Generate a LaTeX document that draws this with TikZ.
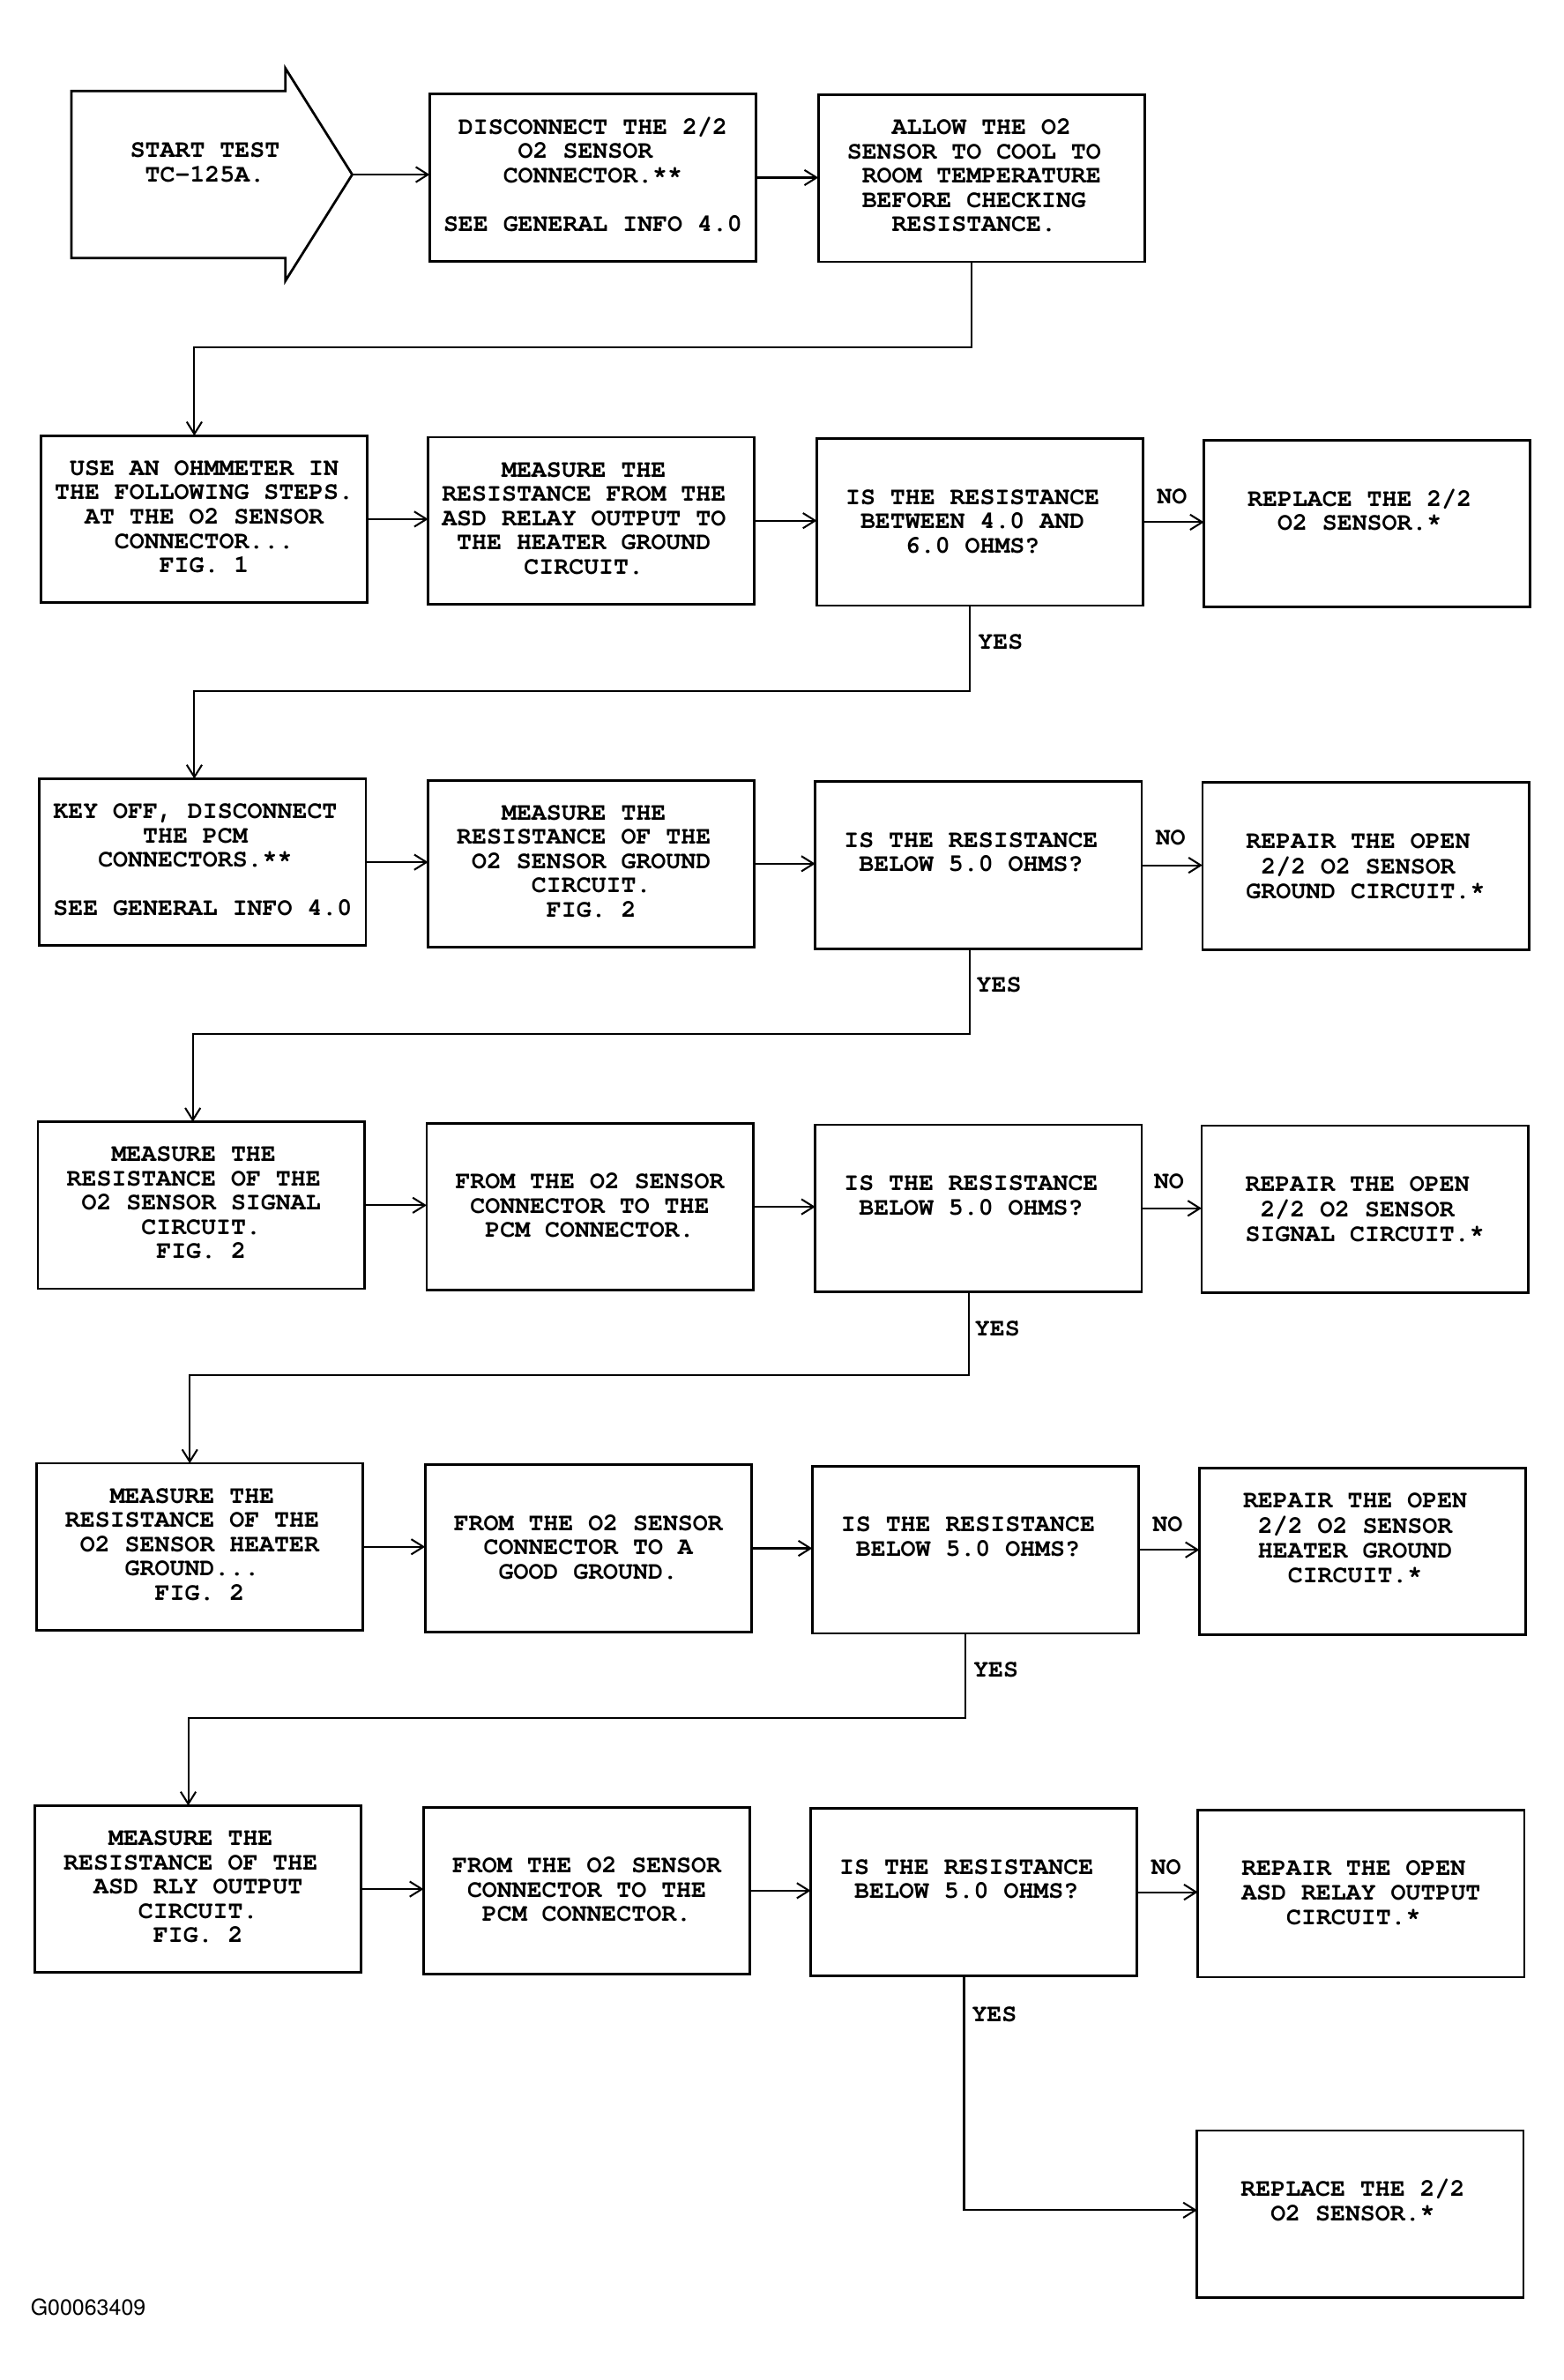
\documentclass[tikz,border=0pt]{standalone}
\usepackage{fontspec}
\setmainfont{TeX Gyre Cursor}
\newfontfamily\idsans{TeX Gyre Heros}
\usetikzlibrary{arrows.meta}
\newcommand{\bxt}[2]{\parbox[c][110pt][t]{215pt}{\centering\fontsize{16.4}{16}\selectfont\bfseries\vspace*{#1}\strut #2}}
\newcommand{\tsp}{\hphantom{0}}
\begin{document}
\begin{tikzpicture}[x=1pt,y=-1pt,
  box/.style={draw, line width=1.6pt, inner sep=0pt, outer sep=0pt},
  conn/.style={line width=1.2pt, -{Straight Barb[length=8pt,width=10pt,line width=1.2pt]}},
  lbl/.style={font=\fontsize{16.4}{16}\selectfont\bfseries, inner sep=0pt, align=center}]
\useasboundingbox (0,0) rectangle (1030,1567.9);
% start arrow
\draw[line width=1.6pt, line join=miter] (47,60) -- (188,60) -- (188,45) -- (232,115) -- (188,185) -- (188,170) -- (47,170) -- cycle;
\coordinate (tip) at (232,115);
\node[lbl] (start) at (135,107) {START TEST\\TC-125A.};
% row 1
\node[box] (b1) at (390.5,117) {\bxt{15pt}{DISCONNECT THE 2/2\\O2 SENSOR\tsp\\CONNECTOR.**\\[16pt]SEE GENERAL INFO 4.0}};
\node[box] (b2) at (646.5,117.5) {\bxt{15pt}{ALLOW THE O2\\SENSOR TO COOL TO\tsp\\ROOM TEMPERATURE\\BEFORE CHECKING\tsp\\RESISTANCE.\tsp}};
% row 2
\node[box] (b3) at (134.5,342) {\bxt{15pt}{USE AN OHMMETER IN\\THE FOLLOWING STEPS.\\AT THE O2 SENSOR\\CONNECTOR...\\FIG. 1}};
\node[box] (b4) at (389.5,343) {\bxt{15pt}{MEASURE THE\tsp\\RESISTANCE FROM THE\tsp\\ASD RELAY OUTPUT TO\tsp\\THE HEATER GROUND\tsp\\CIRCUIT.\tsp}};
\node[box] (b5) at (645.5,344) {\bxt{32pt}{IS THE RESISTANCE\tsp\\BETWEEN 4.0 AND\tsp\\6.0 OHMS?\tsp}};
\node[box] (b6) at (900.5,345) {\bxt{32pt}{REPLACE THE 2/2\tsp\\O2 SENSOR.*\tsp}};
% row 3
\node[box] (b7) at (133.5,568) {\bxt{15pt}{KEY OFF, DISCONNECT\tsp\\THE PCM\tsp\\CONNECTORS.**\tsp\\[16pt]SEE GENERAL INFO 4.0}};
\node[box] (b8) at (389.5,569) {\bxt{15pt}{MEASURE THE\tsp\\RESISTANCE OF THE\tsp\\O2 SENSOR GROUND\\CIRCUIT.\\FIG. 2}};
\node[box] (b9) at (644.5,570) {\bxt{32pt}{IS THE RESISTANCE\tsp\\BELOW 5.0 OHMS?\tsp}};
\node[box] (b10) at (899.5,570.5) {\bxt{32pt}{REPAIR THE OPEN\tsp\\2/2 O2 SENSOR\tsp\\GROUND CIRCUIT.*}};
% row 4
\node[box] (b11) at (132.5,794) {\bxt{15pt}{MEASURE THE\tsp\\RESISTANCE OF THE\tsp\\O2 SENSOR SIGNAL\\CIRCUIT.\\FIG. 2}};
\node[box] (b12) at (388.5,795) {\bxt{32pt}{FROM THE O2 SENSOR\\CONNECTOR TO THE\\PCM CONNECTOR.}};
\node[box] (b13) at (644.5,796) {\bxt{32pt}{IS THE RESISTANCE\tsp\\BELOW 5.0 OHMS?\tsp}};
\node[box] (b14) at (899,796.5) {\bxt{32pt}{REPAIR THE OPEN\tsp\\2/2 O2 SENSOR\tsp\\SIGNAL CIRCUIT.*}};
% row 5
\node[box] (b15) at (131.5,1019) {\bxt{15pt}{MEASURE THE\tsp\\RESISTANCE OF THE\tsp\\O2 SENSOR HEATER\\GROUND...\tsp\\FIG. 2}};
\node[box] (b16) at (387.5,1020) {\bxt{32pt}{FROM THE O2 SENSOR\\CONNECTOR TO A\\GOOD GROUND.}};
\node[box] (b17) at (642.5,1021) {\bxt{32pt}{IS THE RESISTANCE\tsp\\BELOW 5.0 OHMS?\tsp}};
\node[box] (b18) at (897.5,1022) {\bxt{15pt}{REPAIR THE OPEN\tsp\\2/2 O2 SENSOR\tsp\\HEATER GROUND\tsp\\CIRCUIT.*\tsp}};
% row 6
\node[box] (b19) at (130.5,1244.5) {\bxt{15pt}{MEASURE THE\tsp\\RESISTANCE OF THE\tsp\\ASD RLY OUTPUT\\CIRCUIT.\\FIG. 2}};
\node[box] (b20) at (386.5,1245.5) {\bxt{32pt}{FROM THE O2 SENSOR\\CONNECTOR TO THE\\PCM CONNECTOR.}};
\node[box] (b21) at (641.5,1246.5) {\bxt{32pt}{IS THE RESISTANCE\tsp\\BELOW 5.0 OHMS?\tsp}};
\node[box] (b22) at (896.5,1247.5) {\bxt{32pt}{REPAIR THE OPEN\tsp\\ASD RELAY OUTPUT\\CIRCUIT.*\tsp}};
% final
\node[box] (b23) at (896,1458.5) {\bxt{32pt}{REPLACE THE 2/2\tsp\\O2 SENSOR.*\tsp}};
% horizontal arrows
\draw[conn] (tip) -- (tip -| b1.west);
\draw[conn] (b1.east) -- (b1.east -| b2.west);
\draw[conn] (b3.east) -- (b3.east -| b4.west);
\draw[conn] (b4.east) -- (b4.east -| b5.west);
\draw[conn] (b5.east) -- (b5.east -| b6.west);
\draw[conn] (b7.east) -- (b7.east -| b8.west);
\draw[conn] (b8.east) -- (b8.east -| b9.west);
\draw[conn] (b9.east) -- (b9.east -| b10.west);
\draw[conn] (b11.east) -- (b11.east -| b12.west);
\draw[conn] (b12.east) -- (b12.east -| b13.west);
\draw[conn] (b13.east) -- (b13.east -| b14.west);
\draw[conn] (b15.east) -- (b15.east -| b16.west);
\draw[conn] (b16.east) -- (b16.east -| b17.west);
\draw[conn] (b17.east) -- (b17.east -| b18.west);
\draw[conn] (b19.east) -- (b19.east -| b20.west);
\draw[conn] (b20.east) -- (b20.east -| b21.west);
\draw[conn] (b21.east) -- (b21.east -| b22.west);
% return connectors
\coordinate (j1) at (640,229);  \coordinate (k1) at (128,229);
\coordinate (j2) at (639,455);  \coordinate (k2) at (128,455);
\coordinate (j3) at (639,681);  \coordinate (k3) at (127,681);
\coordinate (j4) at (638,906);  \coordinate (k4) at (125,906);
\coordinate (j5) at (636,1132); \coordinate (k5) at (124,1132);
\coordinate (j6) at (635,1456);
\draw[conn] (j1 |- b2.south) -- (j1) -- (k1) -- (k1 |- b3.north);
\draw[conn] (j2 |- b5.south) -- (j2) -- (k2) -- (k2 |- b7.north);
\draw[conn] (j3 |- b9.south) -- (j3) -- (k3) -- (k3 |- b11.north);
\draw[conn] (j4 |- b13.south) -- (j4) -- (k4) -- (k4 |- b15.north);
\draw[conn] (j5 |- b17.south) -- (j5) -- (k5) -- (k5 |- b19.north);
\draw[conn] (j6 |- b21.south) -- (j6) -- (j6 -| b23.west);
% labels
\node[lbl] (no1) at (772,327) {NO};
\node[lbl] (no2) at (771,552) {NO};
\node[lbl] (no3) at (770,778) {NO};
\node[lbl] (no4) at (769,1004) {NO};
\node[lbl] (no5) at (768,1230) {NO};
\node[lbl] (yes1) at (659,423) {YES};
\node[lbl] (yes2) at (658,649) {YES};
\node[lbl] (yes3) at (657,875) {YES};
\node[lbl] (yes4) at (656,1100) {YES};
\node[lbl] (yes5) at (655,1327) {YES};
\node[inner sep=0pt, anchor=west, font=\idsans\fontsize{14.5}{18}\selectfont] (fig) at (20,1520) {G00063409};
\end{tikzpicture}
\end{document}
